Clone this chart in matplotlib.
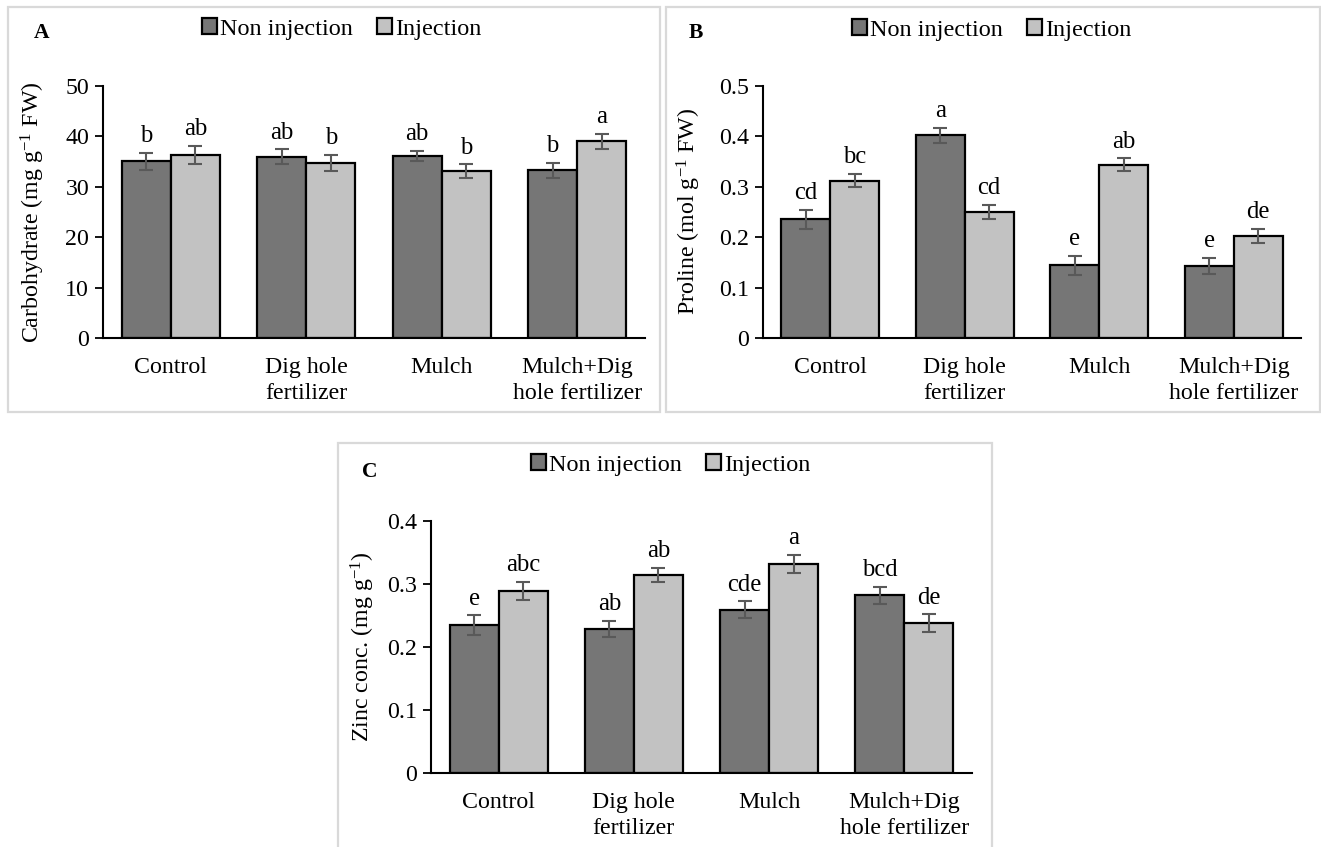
import numpy as np
import matplotlib
matplotlib.use("Agg")
from matplotlib import pyplot as plt
from matplotlib.patches import Rectangle
from matplotlib.ticker import FuncFormatter

plt.rcParams['font.family'] = ['Liberation Serif', 'DejaVu Serif']
plt.rcParams['mathtext.fontset'] = 'custom'
plt.rcParams['mathtext.rm'] = 'Liberation Serif'
plt.rcParams['mathtext.it'] = 'Liberation Serif:italic'

categories = ["Control", "Dig hole\nfertilizer", "Mulch", "Mulch+Dig\nhole fertilizer"]
series_names = ["Non injection", "Injection"]

# A: carbohydrate
carb_non = [35.0, 35.9, 36.1, 33.2]
carb_inj = [36.3, 34.7, 33.1, 39.0]
carb_non_err = [1.75, 1.5, 1.0, 1.5]
carb_inj_err = [1.8, 1.6, 1.35, 1.5]
carb_non_lab = ["b", "ab", "ab", "b"]
carb_inj_lab = ["ab", "b", "b", "a"]

# B: proline
prol_non = [0.235, 0.402, 0.144, 0.143]
prol_inj = [0.312, 0.250, 0.343, 0.203]
prol_non_err = [0.019, 0.015, 0.019, 0.016]
prol_inj_err = [0.013, 0.0145, 0.013, 0.014]
prol_non_lab = ["cd", "a", "e", "e"]
prol_inj_lab = ["bc", "cd", "ab", "de"]

# C: zinc
zinc_non = [0.235, 0.229, 0.259, 0.282]
zinc_inj = [0.289, 0.314, 0.332, 0.238]
zinc_non_err = [0.0156, 0.013, 0.0135, 0.0135]
zinc_inj_err = [0.0143, 0.0114, 0.014, 0.0137]
zinc_non_lab = ["e", "ab", "cde", "bcd"]
zinc_inj_lab = ["abc", "ab", "a", "de"]

W, H = 1321, 847
fig = plt.figure(figsize=(W / 100, H / 100), dpi=100)

dark = "#767676"
light = "#c2c2c2"
fs = 17.2


def fx(px):
    return px / W


def fy(py):
    return 1 - py / H


def panel(box, axbox, letter, letter_xy, legend_xy, non, inj, non_err, inj_err,
          non_lab, inj_lab, ylim, step, ylabel, label_x):
    # grey frame around the panel
    x0, y0, x1, y1 = box
    fig.add_artist(Rectangle((fx(x0), fy(y1)), fx(x1 - x0), (y1 - y0) / H,
                             transform=fig.transFigure, fill=False,
                             edgecolor="#d9d9d9", linewidth=1.6))
    l, t, r, b = axbox
    ax = fig.add_axes([fx(l), fy(b), fx(r - l), (b - t) / H])
    x = np.arange(len(categories))
    bw = 0.363
    b1 = ax.bar(x - bw / 2, non, bw, color=dark, edgecolor="black", linewidth=1.6,
                label=series_names[0], zorder=2)
    b2 = ax.bar(x + bw / 2, inj, bw, color=light, edgecolor="black", linewidth=1.6,
                label=series_names[1], zorder=2)
    ax.errorbar(x - bw / 2, non, yerr=non_err, fmt="none", ecolor="#595959",
                elinewidth=1.5, capsize=5, capthick=1.5, zorder=3)
    ax.errorbar(x + bw / 2, inj, yerr=inj_err, fmt="none", ecolor="#595959",
                elinewidth=1.5, capsize=5, capthick=1.5, zorder=3)
    for xi, v, e, s in zip(x - bw / 2, non, non_err, non_lab):
        ax.annotate(s, (xi, v + e), xytext=(0, 4), textcoords="offset points",
                    ha="center", va="bottom", fontsize=fs + 0.5)
    for xi, v, e, s in zip(x + bw / 2, inj, inj_err, inj_lab):
        ax.annotate(s, (xi, v + e), xytext=(0, 4), textcoords="offset points",
                    ha="center", va="bottom", fontsize=fs + 0.5)
    ax.set_xlim(-0.5, len(categories) - 0.5)
    ax.set_ylim(*ylim)
    ax.set_yticks(np.arange(ylim[0], ylim[1] + step / 2, step))
    ax.yaxis.set_major_formatter(FuncFormatter(lambda v, p: "0" if abs(v) < 1e-9 else f"{v:g}"))
    ax.set_xticks(x)
    ax.set_xticklabels(categories, fontsize=fs, linespacing=1.3)
    ax.tick_params(axis="x", length=0, pad=14)
    ax.tick_params(axis="y", direction="out", length=6, width=1.3, labelsize=fs, pad=4)
    for sp in ["top", "right"]:
        ax.spines[sp].set_visible(False)
    for sp in ["left", "bottom"]:
        ax.spines[sp].set_linewidth(1.5)
    ax.set_ylabel(ylabel, fontsize=fs)
    ax.yaxis.set_label_coords(label_x, 0.5)
    fig.text(fx(letter_xy[0]), fy(letter_xy[1]), letter, fontsize=15.5,
             fontweight="bold", ha="center", va="center")
    fig.legend(handles=[b1, b2], labels=series_names, loc="center",
               bbox_to_anchor=(fx(legend_xy[0]), fy(legend_xy[1])), ncol=2,
               frameon=False, fontsize=fs + 0.3, handlelength=0.6, handleheight=0.6,
               handletextpad=0.15, columnspacing=1.0, borderpad=0)
    return ax


panel((8, 7, 660, 412), (103, 85.7, 645, 338), "A", (42, 33), (342, 29),
      carb_non, carb_inj, carb_non_err, carb_inj_err, carb_non_lab, carb_inj_lab,
      (0, 50), 10, r"Carbohydrate (mg g$^{-1}$ FW)", -0.103)
panel((666, 7, 1320, 412), (763, 85.7, 1301, 338), "B", (696, 33), (992, 30),
      prol_non, prol_inj, prol_non_err, prol_inj_err, prol_non_lab, prol_inj_lab,
      (0, 0.5), 0.1, r"Proline (mol g$^{-1}$ FW)", -0.112)
panel((338, 443, 992, 860), (431, 521, 972, 773), "C", (370, 472), (671, 465),
      zinc_non, zinc_inj, zinc_non_err, zinc_inj_err, zinc_non_lab, zinc_inj_lab,
      (0, 0.4), 0.1, r"Zinc conc. (mg g$^{-1}$)", -0.100)

fig.savefig("out.png", dpi=100)
